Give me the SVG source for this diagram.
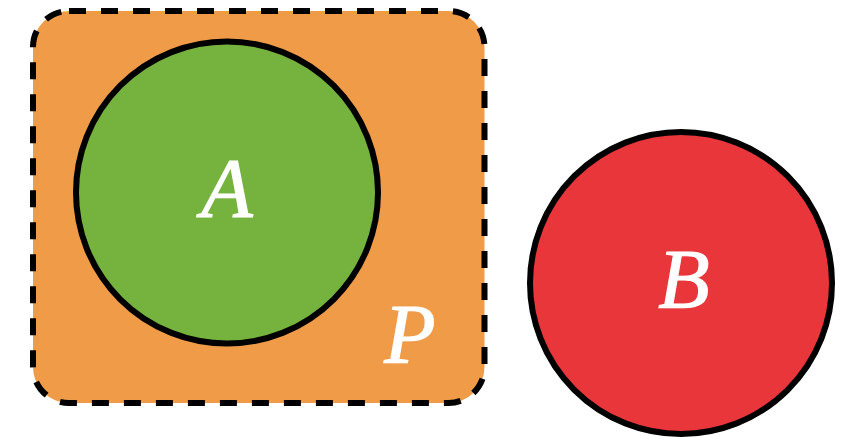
<svg xmlns="http://www.w3.org/2000/svg" width="863" height="440" viewBox="0 0 863 440">
<style>
.lbl{font-family:"Liberation Serif","DejaVu Serif",serif;font-style:italic;font-size:84px;fill:#fff;stroke:#fff;stroke-width:1.2;text-anchor:middle}
.c{stroke:#000;stroke-width:6}
</style>
<rect width="863" height="440" fill="#fff"/>
<g id="P">
<rect x="33" y="11" width="451.5" height="392" rx="36" ry="36" fill="#F09B48" stroke="#000" stroke-width="6" stroke-dasharray="17 15"/>
<text class="lbl" x="410" y="363">P</text>
</g>
<g id="A">
<circle class="c" cx="227" cy="192.5" r="151" fill="#76B33E"/>
<text class="lbl" x="227" y="217">A</text>
</g>
<g id="B">
<circle class="c" cx="681" cy="283" r="151" fill="#E8363B"/>
<text class="lbl" x="684" y="308">B</text>
</g>
<g id="connectors"/>
</svg>
